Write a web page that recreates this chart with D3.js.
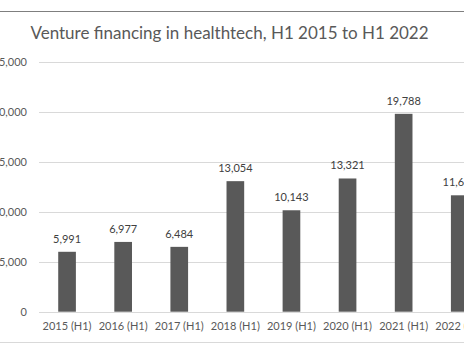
<!DOCTYPE html>
<html>
<head>
<meta charset="utf-8">
<script src="https://cdn.jsdelivr.net/npm/d3@7"></script>
<style>
  html, body { margin: 0; padding: 0; background: #fff; }
  svg { display: block; }
</style>
</head>
<body>
<svg id="chart" width="464" height="348"></svg>
<script>
// Healthtech venture financing by first half-year
const categories = ["2015 (H1)", "2016 (H1)", "2017 (H1)", "2018 (H1)", "2019 (H1)", "2020 (H1)", "2021 (H1)", "2022 (H1)"];
const values = [5991, 6977, 6484, 13054, 10143, 13321, 19788, 11640];
const yTicks = [0, 5000, 10000, 15000, 20000, 25000];
const titleText = "Venture financing in healthtech, H1 2015 to H1 2022";

const svg = d3.select("#chart");
const font = "Lato, 'Open Sans', sans-serif";
const textColor = "#595959";

// chart frame lines
svg.append("line").attr("x1", 0).attr("x2", 464).attr("y1", 11.5).attr("y2", 11.5)
  .attr("stroke", "#7f7f7f").attr("stroke-width", 1.2);
svg.append("line").attr("x1", 0).attr("x2", 464).attr("y1", 342.5).attr("y2", 342.5)
  .attr("stroke", "#d9d9d9").attr("stroke-width", 1);

svg.append("text")
  .attr("x", 229.5).attr("y", 39)
  .attr("text-anchor", "middle")
  .attr("font-family", font).attr("font-size", 17)
  .attr("fill", textColor)
  .text(titleText);

const x = d3.scaleBand().domain(categories).range([39, 39 + 8 * 56.1]).paddingInner(0.685).paddingOuter(0.3425);
const y = d3.scaleLinear().domain([0, 25000]).range([311.7, 61.7]);

// gridlines + y labels
const yAxis = d3.axisLeft(y).tickValues(yTicks).tickSize(0).tickPadding(0)
  .tickFormat(d3.format(","));
const gy = svg.append("g").attr("transform", "translate(27,0)").call(yAxis);
gy.select(".domain").remove();
gy.selectAll("text").attr("font-family", font).attr("font-size", 11).attr("fill", textColor);

svg.append("g").selectAll("line").data(yTicks).join("line")
  .attr("x1", 39).attr("x2", 464)
  .attr("y1", d => Math.round(y(d)) + 0.5).attr("y2", d => Math.round(y(d)) + 0.5)
  .attr("stroke", "#d9d9d9").attr("stroke-width", 1);

// bars
svg.append("g").selectAll("rect").data(values).join("rect")
  .attr("x", (d, i) => x(categories[i]))
  .attr("width", x.bandwidth())
  .attr("y", d => y(d))
  .attr("height", d => y(0) - y(d))
  .attr("fill", "#595959");

// value labels
svg.append("g").selectAll("text").data(values).join("text")
  .attr("x", (d, i) => x(categories[i]) + x.bandwidth() / 2)
  .attr("y", d => y(d) - 9)
  .attr("text-anchor", "middle")
  .attr("font-family", font).attr("font-size", 11)
  .attr("fill", "#404040")
  .text(d => d3.format(",")(d));

// x axis labels
const xAxis = d3.axisBottom(x).tickSize(0).tickPadding(0);
const gx = svg.append("g").attr("transform", "translate(0,322.5)").call(xAxis);
gx.select(".domain").remove();
gx.selectAll("text").attr("font-family", font).attr("font-size", 11).attr("fill", textColor);
</script>
</body>
</html>
